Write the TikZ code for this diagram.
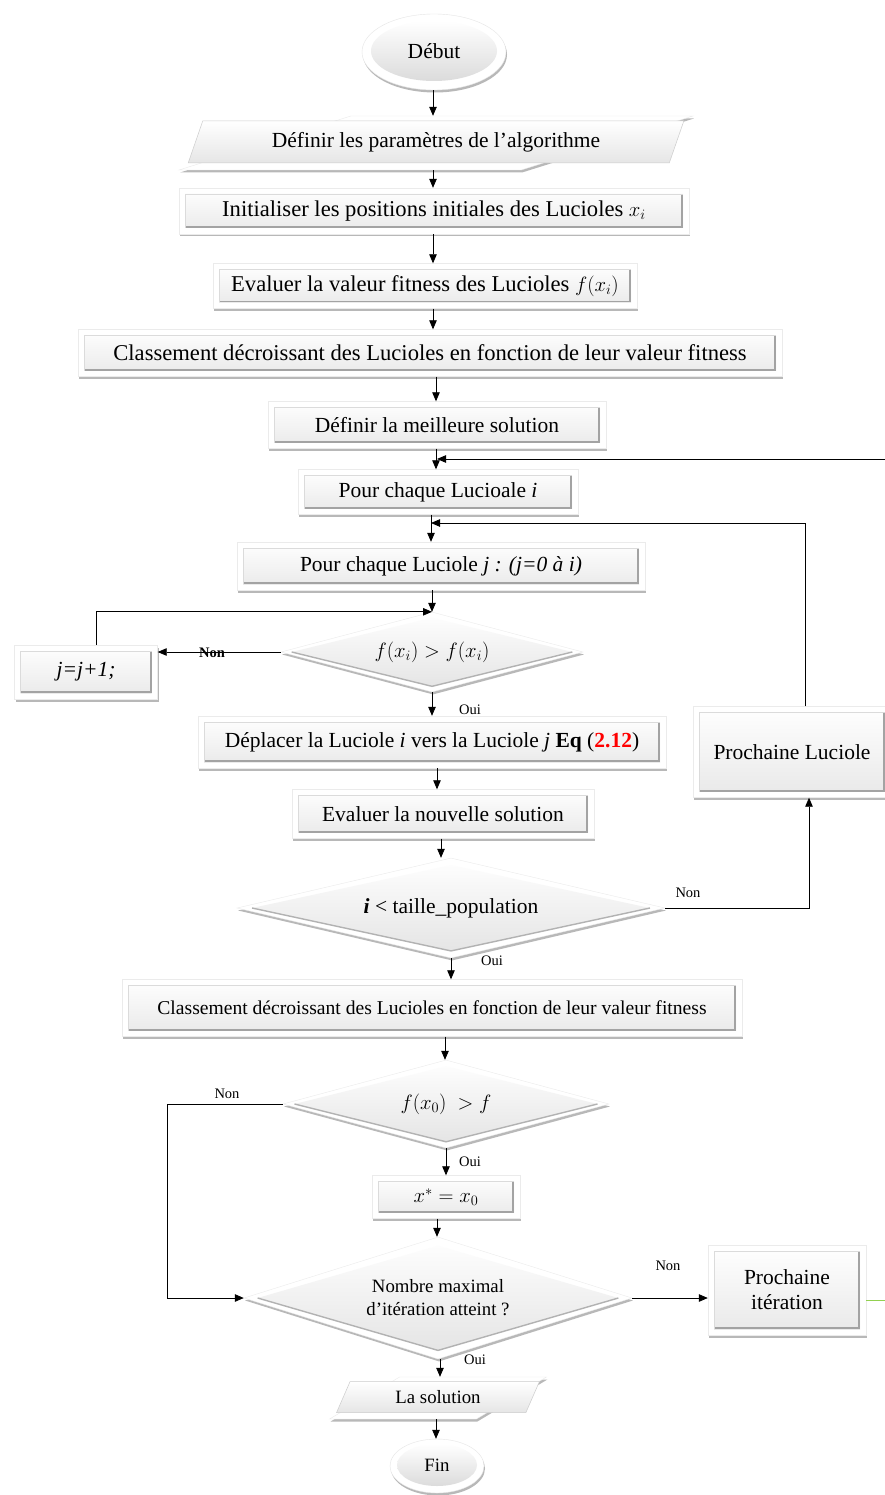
\documentclass[tikz,border=0pt]{standalone}
\usepackage{fontspec}
\setmainfont{Liberation Serif}
\usepackage{amsmath}
\usetikzlibrary{shapes.geometric,shadows,arrows.meta,calc}
\newcommand\fbig{\fontsize{21.5}{25}\selectfont}
\newcommand\fbigger{\fontsize{22.6}{26}\selectfont}
\newcommand\fmid{\fontsize{18.8}{23}\selectfont}
\newcommand\fcls{\fontsize{19.6}{23}\selectfont}
\newcommand\fsmall{\fontsize{14.5}{17}\selectfont}
\definecolor{lgreen}{RGB}{146,208,80}
\begin{document}
\begin{tikzpicture}[x=1pt,y=-1pt,
  shadowed/.style={drop shadow={opacity=0.28,shadow xshift=1pt,shadow yshift=-2.5pt,fill=black}},
  box/.style={rectangle, fill=white, draw=black!8, line width=0.4pt, shadowed, font=\fbig, inner sep=0pt,
    path picture={
      \shade[top color=white,bottom color=black!9]
        ([shift={(6pt,6pt)}]path picture bounding box.south west) rectangle ([shift={(-6pt,-6pt)}]path picture bounding box.north east);
      \draw[black!36,line width=1.6pt]
        ([shift={(6pt,6.8pt)}]path picture bounding box.south west) -- ([shift={(-6.8pt,6.8pt)}]path picture bounding box.south east) -- ([shift={(-6.8pt,-6pt)}]path picture bounding box.north east);
      \draw[black!14,line width=0.6pt]
        ([shift={(6pt,6pt)}]path picture bounding box.south west) -- ([shift={(6pt,-6pt)}]path picture bounding box.north west) -- ([shift={(-6pt,-6pt)}]path picture bounding box.north east);
    }},
  dia/.style={diamond, fill=white, draw=black!8, line width=0.4pt, shadowed, inner sep=0pt, aspect=3, font=\fbig,
    path picture={
      \shade[top color=white,bottom color=black!11]
        ($(path picture bounding box.center)!0.86!(path picture bounding box.north)$) --
        ($(path picture bounding box.center)!0.93!(path picture bounding box.east)$) --
        ($(path picture bounding box.center)!0.86!(path picture bounding box.south)$) --
        ($(path picture bounding box.center)!0.93!(path picture bounding box.west)$) -- cycle;
      \draw[black!30,line width=1.4pt]
        ($(path picture bounding box.center)!0.93!(path picture bounding box.west)$) --
        ($(path picture bounding box.center)!0.86!(path picture bounding box.south)$) --
        ($(path picture bounding box.center)!0.93!(path picture bounding box.east)$);
    }},
  para/.style={trapezium, trapezium stretches=true, fill=white, draw=black!8, line width=0.4pt, shadowed, inner sep=4pt},
  paraIn/.style={trapezium, trapezium stretches=true, top color=white, bottom color=black!10, draw=black!20, line width=0.5pt, inner sep=3pt, font=\fbig},
  ell/.style={ellipse, fill=white, draw=black!10, line width=0.4pt, shadowed, inner sep=4pt},
  ellIn/.style={ellipse, top color=white, bottom color=black!14, draw=none, inner sep=0pt, font=\fbig},
  line/.style={line width=0.8pt, black},
  arr/.style={line, -{Triangle[length=9pt,width=7.5pt]}},
  lbl/.style={font=\fsmall, inner sep=1pt}
]
\fill[white] (0,0) rectangle (884,1495);
\useasboundingbox (0,0) rectangle (884,1495);

% --- nodes ---
\node[ell, minimum width=144pt, minimum height=76pt] (debut) at (434,52) {\strut};
\node[ellIn, minimum width=126pt, minimum height=60pt] (debutIn) at (434,51) {Début};

\node[para, trapezium left angle=68, trapezium right angle=112, minimum width=515pt, minimum height=54pt] (params) at (436,143) {\strut};
\node[paraIn, trapezium left angle=68, trapezium right angle=112, minimum width=497pt, minimum height=42pt] (paramsIn) at (436,142) {Définir les paramètres de l’algorithme};

\node[box, minimum width=510pt, minimum height=46pt, font=\fbigger] (init) at (434,211) {Initialiser les positions initiales des Lucioles $x_i$};
\node[box, minimum width=424pt, minimum height=45pt, font=\fbigger] (eval1) at (425,286) {Evaluer la valeur fitness des Lucioles $f(x_i)$};
\node[box, minimum width=704pt, minimum height=47pt, font=\fbigger] (class1) at (430,353) {Classement décroissant des Lucioles en fonction de leur valeur fitness};
\node[box, minimum width=338pt, minimum height=47pt] (best) at (437,425) {Définir la meilleure solution};
\node[box, minimum width=280pt, minimum height=45pt] (pouri) at (438,492) {Pour chaque Lucioale \textit{i}};
\node[box, minimum width=408pt, minimum height=48pt] (pourj) at (441,566) {Pour chaque Luciole \textit{j : (j=0 à i)}};
\node[dia, minimum width=302pt, minimum height=80pt] (d1) at (432,652) {$f(x_i) > f(x_i)$};
\node[box, minimum width=143pt, minimum height=54pt] (jbox) at (86,672) {\textit{j=j+1;}};
\node[box, minimum width=468pt, minimum height=52pt] (move) at (432,742) {Déplacer la Luciole \textit{i} vers la Luciole \textit{j} \textbf{Eq} (\textcolor{red}{\textbf{2.12}})};
\node[box, minimum width=302pt, minimum height=49pt] (evalnew) at (443,814) {Evaluer la nouvelle solution};
\node[dia, minimum width=428pt, minimum height=100pt] (d2) at (451,908) {\textbf{\textit{i}} < taille\_population};
\node[box, minimum width=198pt, minimum height=91pt] (nextluc) at (792,752) {Prochaine Luciole};
\node[box, minimum width=620pt, minimum height=57pt, font=\fcls] (class2) at (432,1008) {Classement décroissant des Lucioles en fonction de leur valeur fitness};
\node[dia, minimum width=326pt, minimum height=88pt] (d3) at (446,1104) {$f(x_0)\ > f$};
\node[box, minimum width=148pt, minimum height=43pt] (xstar) at (446,1197) {$x^* = x_0$};
\node[dia, minimum width=388pt, minimum height=122pt, font=\fmid, align=center] (d4) at (438,1298) {Nombre maximal\\d’itération atteint ?};
\node[box, minimum width=158pt, minimum height=90pt, align=center] (nextit) at (787,1290) {Prochaine\\itération};
\node[para, trapezium left angle=70, trapezium right angle=110, minimum width=217pt, minimum height=42pt] (solution) at (438,1398) {\strut};
\node[paraIn, trapezium left angle=70, trapezium right angle=110, font=\fmid, minimum width=203pt, minimum height=31pt] (solutionIn) at (438,1397) {La solution};
\node[ell, minimum width=94pt, minimum height=54pt] (fin) at (437,1466) {\strut};
\node[ellIn, font=\fmid, minimum width=80pt, minimum height=42pt] (finIn) at (437,1465) {Fin};

% --- free ends ---
\coordinate (r1) at (890,459);
\coordinate (c2) at (431,523);
\coordinate (c3) at (167,1104);
\coordinate (r2) at (890,1300);

% --- connectors ---
\draw[arr] ([xshift=-1pt]debut.south) -- ([xshift=-1pt]debut.south |- params.north);
\draw[arr] ([xshift=-3pt]params.south) -- ([xshift=-3pt]params.south |- init.north);
\draw[arr] ([xshift=-1pt]init.south) -- ([xshift=-1pt]init.south |- eval1.north);
\draw[arr] ([xshift=8pt]eval1.south) -- ([xshift=8pt]eval1.south |- class1.north);
\draw[arr] ([xshift=-1pt]best.north |- class1.south) -- ([xshift=-1pt]best.north);
\draw[arr] ([xshift=-1pt]best.south) -- ([xshift=-1pt]best.south |- pouri.north);
\draw[arr] (r1) -- ([xshift=-1pt]r1 -| pouri.north);
\draw[arr] ([xshift=-7pt]pouri.south) -- ([xshift=-7pt]pouri.south |- pourj.north);
\draw[arr] ([xshift=13pt]nextluc.north) |- (c2);
\draw[arr] ([xshift=-9pt]pourj.south) -- (d1.north);
\draw[arr] (d1.west) -- (d1.west -| jbox.east);
\draw[arr] ([xshift=10pt]jbox.north) |- (d1.north);
\draw[arr] (d1.south) -- (d1.south |- move.north);
\draw[arr] ([xshift=5pt]move.south) -- ([xshift=5pt]move.south |- evalnew.north);
\draw[arr] ([xshift=-2pt]evalnew.south) -- ([xshift=-2pt]evalnew.south |- d2.north);
\draw[arr] (d2.east) -| ([xshift=17pt]nextluc.south);
\draw[arr] (d2.south) -- (d2.south |- class2.north);
\draw[arr] ([xshift=13pt]class2.south) -- ([xshift=13pt]class2.south |- d3.north);
\draw[arr] (d3.west) -- (c3) |- (d4.west);
\draw[arr] (d3.south) -- (d3.south |- xstar.north);
\draw[arr] ([xshift=-9pt]xstar.south) -- ([xshift=-9pt]xstar.south |- d4.north);
\draw[arr] (d4.east) -- (d4.east -| nextit.west);
\draw[line, lgreen, line width=0.6pt] (r2 -| nextit.east) -- (r2);
\draw[arr] ([xshift=2pt]d4.south) -- ([xshift=2pt]d4.south |- solution.north);
\draw[arr] ([xshift=-2pt]solution.south) -- ([xshift=-2pt]solution.south |- fin.north);

% --- labels ---
\node[lbl, font=\fsmall\bfseries] (non1) at (212,653) {Non};
\node[lbl] (oui1) at (470,710) {Oui};
\node[lbl] (non2) at (688,893) {Non};
\node[lbl] (oui2) at (492,961) {Oui};
\node[lbl] (non3) at (227,1094) {Non};
\node[lbl] (oui3) at (470,1162) {Oui};
\node[lbl] (non4) at (668,1266) {Non};
\node[lbl] (oui4) at (475,1360) {Oui};
\end{tikzpicture}
\end{document}
